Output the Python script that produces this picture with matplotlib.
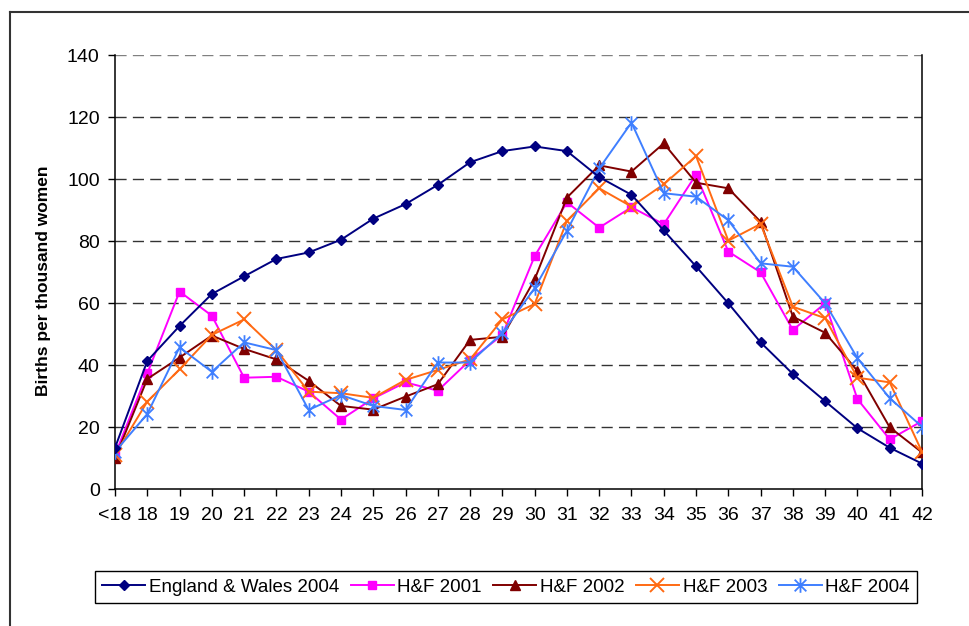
import matplotlib
matplotlib.use("Agg")
import matplotlib.pyplot as plt
from matplotlib.path import Path
from matplotlib.lines import Line2D

plt.rcParams['font.family'] = ['Liberation Sans', 'DejaVu Sans']

# Age groups on the x axis
ages = ['<18', '18', '19', '20', '21', '22', '23', '24', '25', '26', '27', '28', '29',
        '30', '31', '32', '33', '34', '35', '36', '37', '38', '39', '40', '41', '42']

# Births per thousand women
england_wales_2004 = [13.3, 41.3, 52.6, 62.9, 68.6, 74.2, 76.3, 80.4, 87.2, 91.9, 98.1, 105.4, 109.0,
                      110.5, 109.0, 100.6, 94.9, 83.4, 71.8, 59.9, 47.3, 37.1, 28.3, 19.6, 13.3, 8.2]
hf_2001 = [11.0, 37.3, 63.7, 55.9, 35.9, 36.2, 31.4, 22.4, 29.2, 34.4, 31.7, 41.6, 49.7,
           75.1, 92.5, 84.3, 90.9, 85.4, 101.4, 76.6, 69.9, 51.3, 59.9, 29.0, 16.0, 21.9]
hf_2002 = [9.9, 35.5, 42.4, 49.5, 45.2, 41.8, 34.9, 26.8, 25.6, 29.8, 33.8, 48.1, 49.1,
           67.6, 94.0, 104.4, 102.4, 111.5, 98.8, 97.0, 86.2, 55.6, 50.4, 38.1, 19.9, 11.8]
hf_2003 = [11.0, 28.2, 38.6, 49.7, 54.7, 44.8, 31.4, 30.9, 29.4, 35.2, 38.4, 41.8, 54.7,
           59.7, 86.5, 97.0, 91.1, 98.3, 107.4, 80.1, 85.5, 58.8, 55.1, 35.9, 34.4, 12.0]
hf_2004 = [12.0, 24.2, 45.7, 37.8, 47.3, 44.8, 25.5, 30.3, 26.8, 25.5, 40.8, 40.8, 50.4,
           64.8, 83.3, 103.4, 118.2, 95.4, 94.3, 86.7, 72.8, 71.7, 59.9, 42.2, 29.3, 20.1]

# Excel style asterisk marker: vertical bar plus two diagonals
asterisk = Path([(0, -1), (0, 1), (-0.8, -0.8), (0.8, 0.8), (-0.8, 0.8), (0.8, -0.8)],
                [Path.MOVETO, Path.LINETO, Path.MOVETO, Path.LINETO, Path.MOVETO, Path.LINETO])

fig = plt.figure(figsize=(9.69, 6.26), dpi=100)
ax = fig.add_axes([115 / 969, 1 - 489 / 626, 807 / 969, 434 / 626])

x = list(range(len(ages)))
ax.plot(x, england_wales_2004, color='#000080', lw=1.4, marker='D', ms=5,
        label='England & Wales 2004', zorder=5)
ax.plot(x, hf_2001, color='#FF00FF', lw=1.4, marker='s', ms=6, label='H&F 2001', zorder=4)
ax.plot(x, hf_2002, color='#800000', lw=1.4, marker='^', ms=7.5, label='H&F 2002', zorder=4)
ax.plot(x, hf_2003, color='#FF6A13', lw=1.4, marker='x', ms=9.5, mew=1.4, label='H&F 2003', zorder=4)
ax.plot(x, hf_2004, color='#3F7FFF', lw=1.4, marker=asterisk, ms=10.5, mew=1.3,
        label='H&F 2004', zorder=4)

ax.set_xlim(0, len(ages) - 1)
ax.set_ylim(0, 140)
ax.set_yticks(range(0, 141, 20))
ax.set_xticks(x)
ax.set_xticklabels(ages)

# dashed horizontal gridlines
for yv in range(20, 141, 20):
    ax.axhline(yv, color='#333333' if yv < 140 else '#808080', lw=1,
               linestyle=(0, (8, 4.5)), zorder=1)

for s in ['left', 'bottom', 'right']:
    ax.spines[s].set_color('black')
    ax.spines[s].set_linewidth(1.1)
ax.spines['top'].set_visible(False)

ax.tick_params(axis='both', direction='out', length=5, width=1, labelsize=14, colors='black')
ax.tick_params(axis='y', pad=6)
ax.tick_params(axis='x', pad=8)

fig.text(44 / 969, 1 - 281 / 626, 'Births per thousand women', rotation=90,
         ha='center', va='center', fontsize=12.5, fontweight='bold')

leg = ax.legend(loc='center', bbox_to_anchor=(506 / 969, 1 - 587 / 626),
                bbox_transform=fig.transFigure, ncol=5, fontsize=13.5, frameon=True,
                fancybox=False, edgecolor='black', framealpha=1, handlelength=2.3,
                handletextpad=0.2, columnspacing=0.6, borderpad=0.4)
leg.get_frame().set_linewidth(1)

# chart area border (cropped on the right and bottom)
fig.add_artist(Line2D([10 / 969, 10 / 969], [0, 1 - 12 / 626], color='#333333', lw=1.5))
fig.add_artist(Line2D([10 / 969, 1], [1 - 12 / 626, 1 - 12 / 626], color='#333333', lw=1.5))

fig.savefig('out.png', dpi=100)
